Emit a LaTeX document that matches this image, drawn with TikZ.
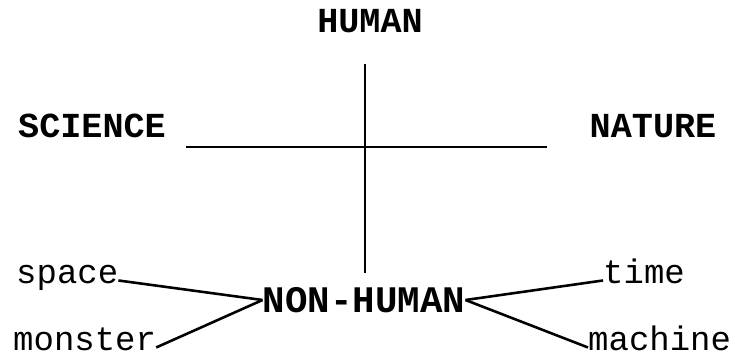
\documentclass[tikz,border=0pt]{standalone}
\usepackage{fontspec}
\newfontfamily\typewr{Liberation Mono}
\usepackage{tikz}
\usetikzlibrary{positioning,calc}

\begin{document}
\begin{tikzpicture}[
  x=0.03cm, y=-0.03cm,
  capword/.style={font=\typewr\bfseries\fontsize{30}{34}\selectfont, inner sep=0pt},
  hubword/.style={capword, font=\typewr\bfseries\fontsize{32}{36}\selectfont},
  lowword/.style={font=\typewr\fontsize{29}{34}\selectfont, inner sep=0pt},
  axis/.style={line width=2.5pt},
  link/.style={line width=2.2pt}
]
\useasboundingbox (0,0) rectangle (735,357);
\def\xM{365}\def\yH{147}

% ================= CROSS =================
\node[capword] (human) at (370,21) {HUMAN};
\node[capword] (science) at (92,126) {SCIENCE};
\node[capword] (nature) at (653,126) {NATURE};
\coordinate (hl) at (186,\yH);
\coordinate (hr) at (547,\yH);
\coordinate (vt) at (\xM,64);
\coordinate (vb) at (\xM,273);
\draw[axis] (hl)--(hr);
\draw[axis] (vt)--(vb);

% ================= FORK =================
\node[hubword] (nonhuman) at (364,300) {NON-HUMAN};
\node[lowword, anchor=base west] (space) at (16,283) {space};
\node[lowword, anchor=base west] (monster) at (13,350) {monster};
\node[lowword, anchor=base west] (time) at (603,283) {time};
\node[lowword, anchor=base west] (machine) at (588,350) {machine};
\draw[link] (space.mid east)--(nonhuman.west);
\draw[link] (monster.mid east)--(nonhuman.west);
\draw[link] (time.mid west)--(nonhuman.east);
\draw[link] (machine.mid west)--(nonhuman.east);

\end{tikzpicture}
\end{document}
